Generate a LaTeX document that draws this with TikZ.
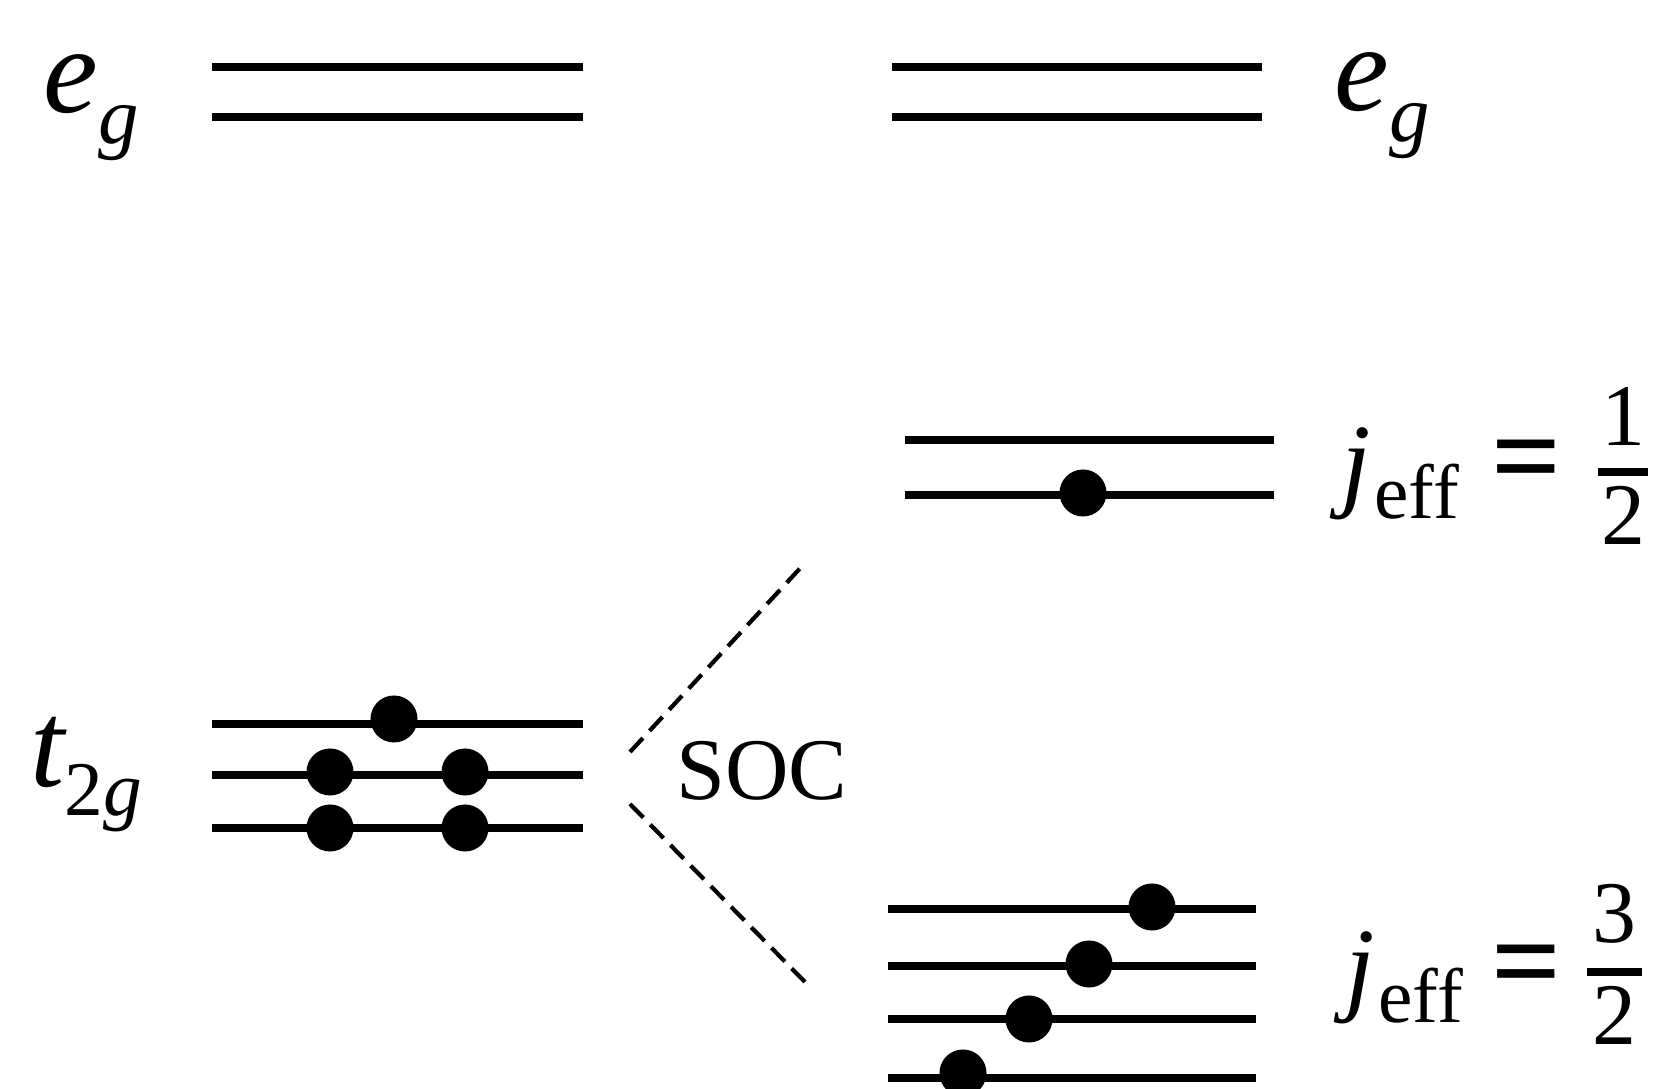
\documentclass[tikz,border=0pt]{standalone}
\usepackage{fontspec}
\setmainfont{Liberation Serif}
\newcommand{\fs}[1]{\fontsize{#1}{#1}\selectfont}
\begin{document}
\begin{tikzpicture}[x=0.01cm,y=-0.01cm,
  level/.style={line width=0.075cm},
  electron/.style={fill=black,circle,inner sep=0pt,minimum size=0.47cm},
  soc/.style={dash pattern=on 5.4pt off 2.8pt, line width=1.2pt},
  lbl/.style={inner sep=0pt, anchor=base west},
  ctr/.style={inner sep=0pt, anchor=base},
  fracbar/.style={line width=0.08cm}]
\useasboundingbox (0,0) rectangle (1665,1089);

% e_g levels
\foreach \y in {67,117} {
  \draw[level] (212,\y) -- (583,\y);
  \draw[level] (892,\y) -- (1262,\y);
}
% t_2g levels
\foreach \y in {724,775,828} \draw[level] (212,\y) -- (583,\y);
% j=1/2 levels
\foreach \y in {440,495} \draw[level] (905,\y) -- (1274,\y);
% j=3/2 levels
\foreach \y in {909,966,1019,1078} \draw[level] (888,\y) -- (1256,\y);

% electrons
\node[electron] (t1) at (394,719) {};
\node[electron] (t2) at (330,772) {};
\node[electron] (t3) at (465,772) {};
\node[electron] (t4) at (330,828) {};
\node[electron] (t5) at (465,828) {};
\node[electron] (h1) at (1083,493) {};
\node[electron] (q1) at (1152,907) {};
\node[electron] (q2) at (1089,964) {};
\node[electron] (q3) at (1029,1019) {};
\node[electron] (q4) at (963,1073) {};

% e_g and t_2g labels
\node[lbl] (egL) at (43,113) {{\fs{35}\itshape e}\raisebox{-8.8pt}{\fs{23}\itshape g}};
\node[lbl] (egR) at (1334,111) {{\fs{35}\itshape e}\raisebox{-8.8pt}{\fs{23}\itshape g}};
\node[lbl] (t2g) at (30,787) {{\fs{35}\itshape t}\raisebox{-8.2pt}{\fs{22}2\itshape g}};

% j_eff = 1/2
\node[lbl] (jh) at (1341,498) {{\fs{30}\itshape j}\kern1pt\raisebox{-5.7pt}{\fs{22}eff}};
\node[ctr] (eqh) at (1527,498) {\fs{35}\bfseries =};
\node[ctr] (nh) at (1623,446) {\fs{25}1};
\node[ctr] (dh) at (1623,545) {\fs{25}2};
\coordinate (bh0) at (1598,472);
\coordinate (bh1) at (1648,472);
\draw[fracbar] (bh0) -- (bh1);

% j_eff = 3/2
\node[lbl] (jt) at (1345,1002) {{\fs{30}\itshape j}\kern1pt\raisebox{-5.7pt}{\fs{22}eff}};
\node[ctr] (eqt) at (1527,1003) {\fs{35}\bfseries =};
\node[ctr] (nt) at (1614,943) {\fs{25}3};
\node[ctr] (dt) at (1614,1045) {\fs{25}2};
\coordinate (bt0) at (1587,972);
\coordinate (bt1) at (1642,972);
\draw[fracbar] (bt0) -- (bt1);

% SOC
\node[ctr] (soc) at (762,800) {\fs{25}SOC};
\coordinate (su0) at (630,752);
\coordinate (su1) at (805,563);
\coordinate (sl0) at (630,804);
\coordinate (sl1) at (805,982);
\draw[soc] (su0) -- (su1);
\draw[soc] (sl0) -- (sl1);
\end{tikzpicture}
\end{document}
